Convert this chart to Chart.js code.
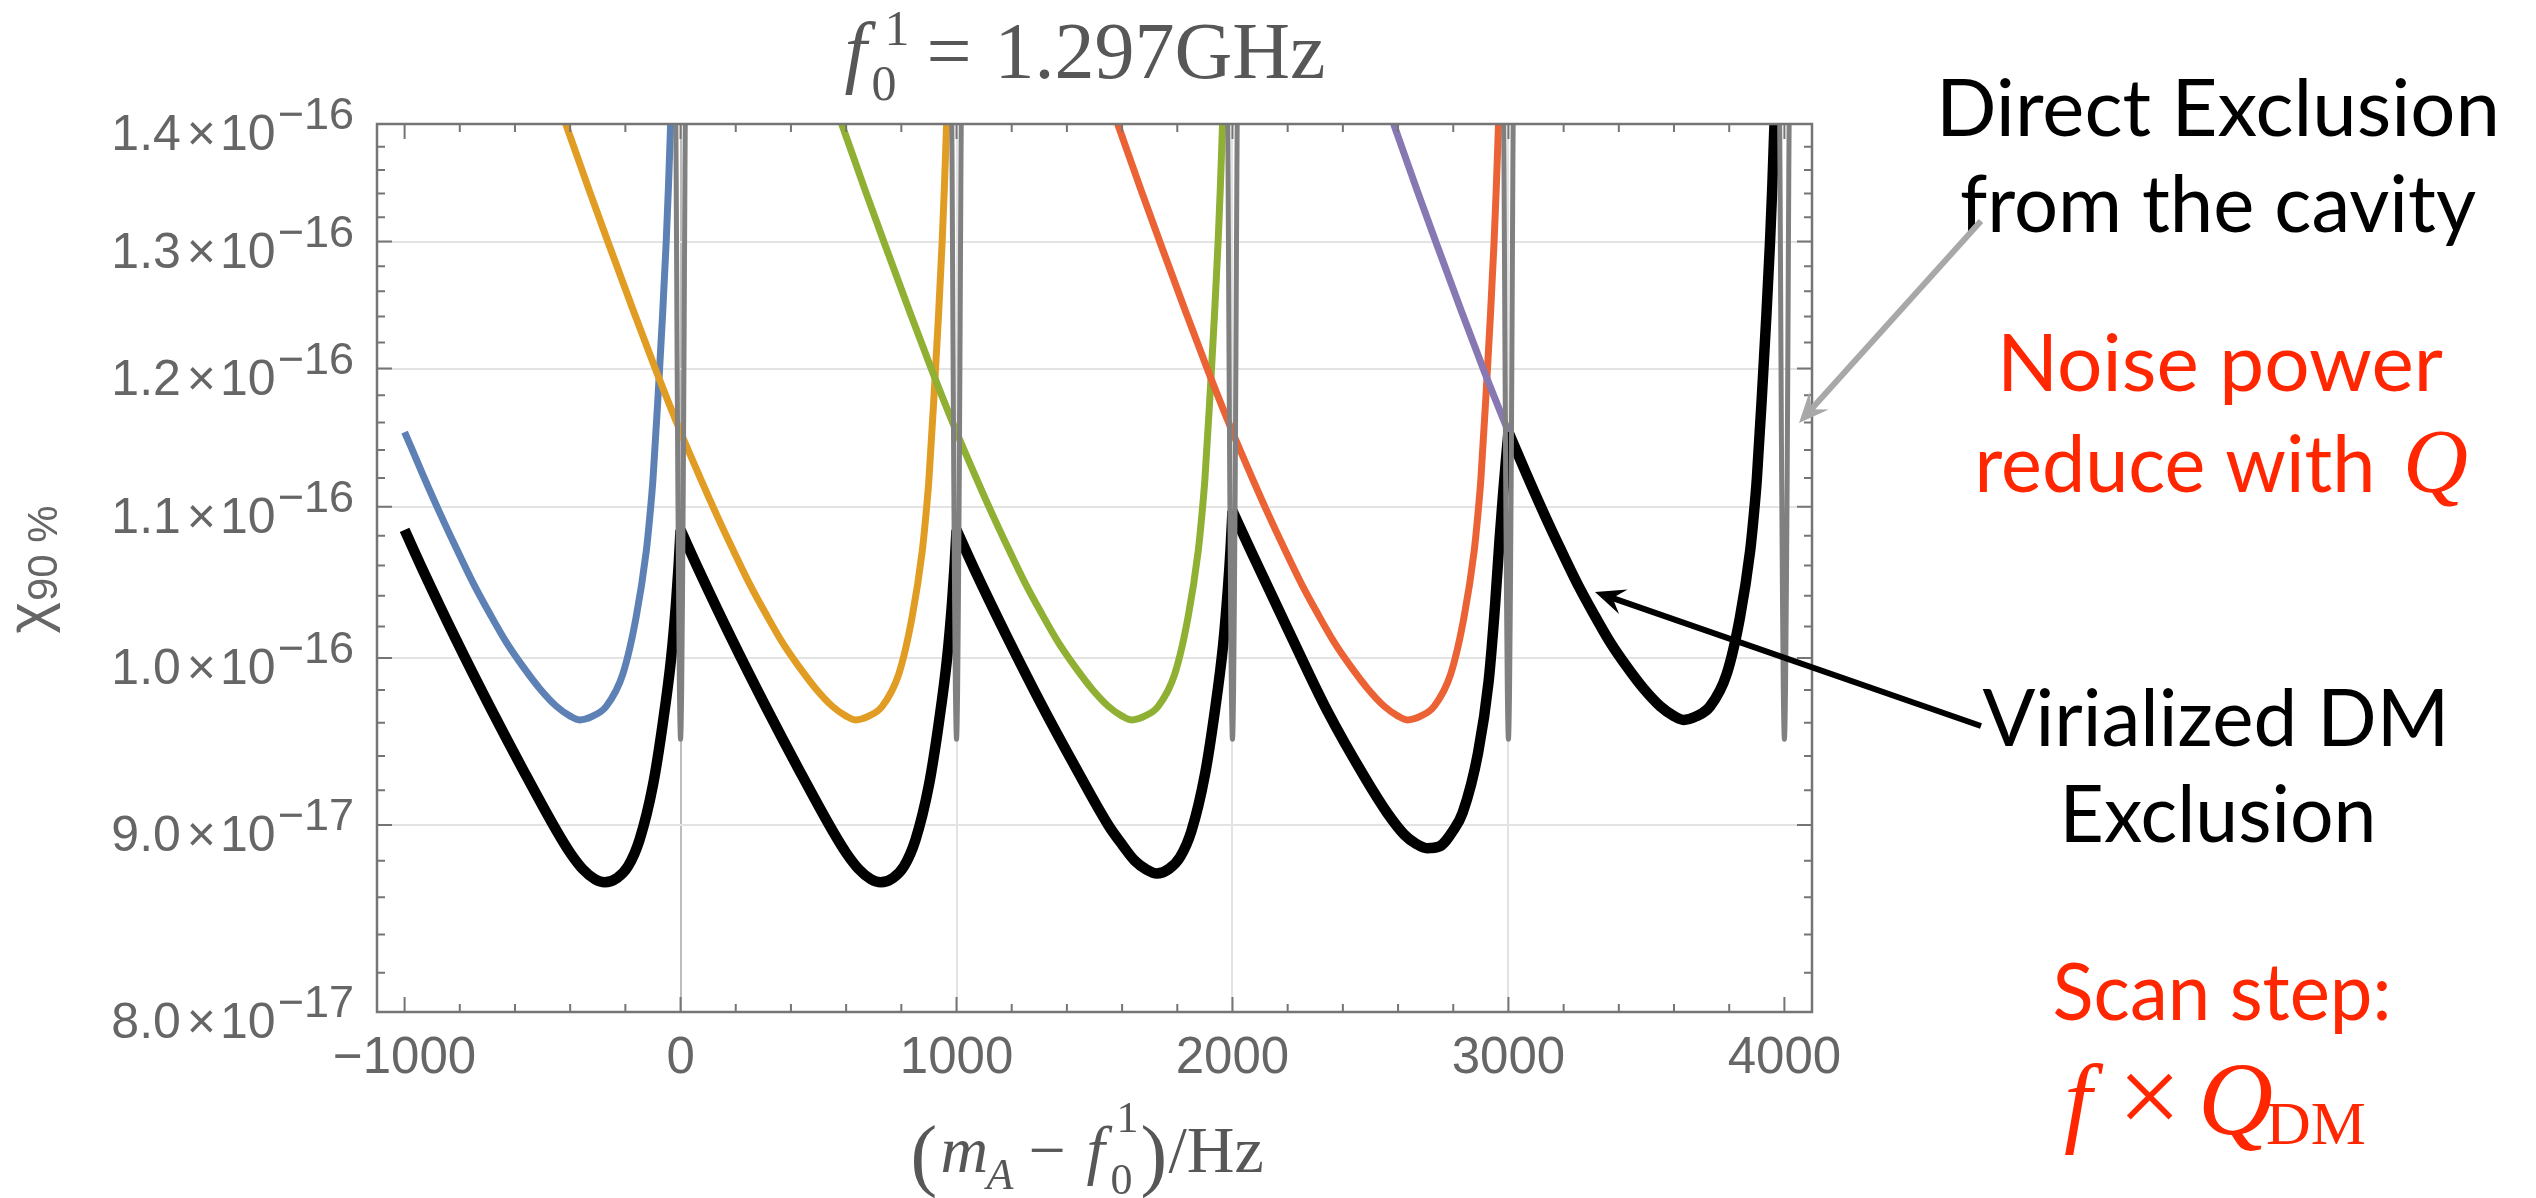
<!DOCTYPE html>
<html>
<head>
<meta charset="utf-8">
<script src="https://cdn.jsdelivr.net/npm/chart.js@4.4.1/dist/chart.umd.min.js"></script>
<style>
  html, body { margin: 0; padding: 0; background: #ffffff; }
  #wrap { width: 2536px; height: 1198px; }
</style>
</head>
<body>
<div id="wrap"><canvas id="chart" width="2536" height="1198"></canvas></div>
<script>
// values of chi_90% in units of 1e-16, x in Hz (m_A - f0)

// ===== single-cavity exclusions (coloured) =====
const blueX = [-1000, -934, -870, -813, -750, -692, -630, -571, -510, -450, -400, -366, -320, -269, -209, -161, -124, -112, -100, -80, -65, -52, -44, -36];
const blueY = [1.153, 1.1225, 1.0947, 1.0717, 1.0478, 1.0285, 1.0095, 0.9945, 0.9808, 0.970, 0.964, 0.9617, 0.9638, 0.970, 0.990, 1.026, 1.070, 1.092, 1.119, 1.185, 1.242, 1.300, 1.345, 1.400];

const orangeX = [-416, -330, -257, -170, -88, 0, 66, 130, 187, 250, 308, 370, 429, 490, 550, 600, 634, 680, 731, 791, 839, 876, 888, 900, 920, 935, 948, 956, 964];
const orangeY = [1.400, 1.342, 1.296, 1.244, 1.198, 1.153, 1.1225, 1.0947, 1.0717, 1.0478, 1.0285, 1.0095, 0.9945, 0.9808, 0.970, 0.964, 0.9617, 0.9638, 0.970, 0.990, 1.026, 1.070, 1.092, 1.119, 1.185, 1.242, 1.300, 1.345, 1.400];

const greenX = [584, 670, 743, 830, 912, 1000, 1066, 1130, 1187, 1250, 1308, 1370, 1429, 1490, 1550, 1600, 1634, 1680, 1731, 1791, 1839, 1876, 1888, 1900, 1920, 1935, 1948, 1956, 1964];
const greenY = [1.400, 1.342, 1.296, 1.244, 1.198, 1.153, 1.1225, 1.0947, 1.0717, 1.0478, 1.0285, 1.0095, 0.9945, 0.9808, 0.970, 0.964, 0.9617, 0.9638, 0.970, 0.990, 1.026, 1.070, 1.092, 1.119, 1.185, 1.242, 1.300, 1.345, 1.400];

const redX = [1584, 1670, 1743, 1830, 1912, 2000, 2066, 2130, 2187, 2250, 2308, 2370, 2429, 2490, 2550, 2600, 2634, 2680, 2731, 2791, 2839, 2876, 2888, 2900, 2920, 2935, 2948, 2956, 2964];
const redY = [1.400, 1.342, 1.296, 1.244, 1.198, 1.153, 1.1225, 1.0947, 1.0717, 1.0478, 1.0285, 1.0095, 0.9945, 0.9808, 0.970, 0.964, 0.9617, 0.9638, 0.970, 0.990, 1.026, 1.070, 1.092, 1.119, 1.185, 1.242, 1.300, 1.345, 1.400];

const purpleX = [2584, 2670, 2743, 2830, 2912, 3000];
const purpleY = [1.400, 1.342, 1.296, 1.244, 1.198, 1.153];

// ===== virialized DM exclusion (black), one piece per scan step =====
const blackAX = [-1000, -934, -813, -692, -571, -450, -400, -354, -310, -275, -230, -190, -149, -100, -64, -34, -16, -7, 0];
const blackAY = [1.084, 1.057, 1.0114, 0.970, 0.932, 0.897, 0.8844, 0.8753, 0.8698, 0.8681, 0.8705, 0.877, 0.8915, 0.923, 0.960, 1.000, 1.036, 1.060, 1.084];

const blackBX = [0, 66, 187, 308, 429, 550, 600, 646, 690, 725, 770, 810, 851, 900, 936, 966, 984, 993, 1000];
const blackBY = [1.084, 1.057, 1.0114, 0.970, 0.932, 0.897, 0.8844, 0.8753, 0.8698, 0.8681, 0.8705, 0.877, 0.8915, 0.923, 0.960, 1.000, 1.036, 1.060, 1.084];

const blackCX = [1000, 1066, 1187, 1308, 1429, 1550, 1600, 1646, 1690, 1725, 1770, 1810, 1851, 1900, 1936, 1966, 1984, 1993, 2000];
const blackCY = [1.084, 1.057, 1.012, 0.971, 0.934, 0.900, 0.889, 0.880, 0.875, 0.873, 0.8755, 0.882, 0.8965, 0.929, 0.967, 1.008, 1.046, 1.071, 1.097];

const blackDX = [2000, 2066, 2204, 2344, 2483, 2560, 2622, 2665, 2705, 2750, 2800, 2834, 2890, 2928, 2952, 2968, 2981, 2991, 3000];
const blackDY = [1.097, 1.070, 1.017, 0.967, 0.9265, 0.9071, 0.8947, 0.8895, 0.887, 0.888, 0.897, 0.907, 0.942, 0.985, 1.035, 1.078, 1.110, 1.133, 1.153];

const blackEX = [3000, 3066, 3130, 3187, 3250, 3308, 3370, 3429, 3490, 3550, 3600, 3634, 3680, 3731, 3791, 3839, 3876, 3888, 3900, 3920, 3935, 3948, 3956, 3964];
const blackEY = [1.153, 1.1225, 1.0947, 1.0717, 1.0478, 1.0285, 1.0095, 0.9945, 0.9808, 0.970, 0.964, 0.9617, 0.9638, 0.970, 0.990, 1.026, 1.070, 1.092, 1.119, 1.185, 1.242, 1.300, 1.345, 1.400];

// ===== direct exclusion from the cavity (narrow grey dips) =====
const dipCenters = [0, 1000, 2000, 3000, 4000];
const dipOffsets = [-19, -16, -13, -10, -7, -4, 0, 4, 7, 10, 13, 16, 19];
const dipY = [1.47, 1.36, 1.23, 1.12, 1.04, 0.98, 0.95, 0.98, 1.04, 1.12, 1.23, 1.36, 1.47];

// ===== axes =====
const xTicks = [-1000, 0, 1000, 2000, 3000, 4000];
const xTickLabels = ['\u22121000', '0', '1000', '2000', '3000', '4000'];
const xGridAt = [0, 1000, 2000, 3000];
const yTicks = [0.8, 0.9, 1.0, 1.1, 1.2, 1.3, 1.4];
const yTickMantissa = ['8.0', '9.0', '1.0', '1.1', '1.2', '1.3', '1.4'];
const yTickExponent = ['\u221217', '\u221217', '\u221216', '\u221216', '\u221216', '\u221216', '\u221216'];
const yGridAt = [0.9, 1.0, 1.1, 1.2, 1.3];

const GRAY_TEXT = '#666666';
const TITLE_GRAY = '#575757';
const RED = '#ff2600';

function pts(xs, ys) {
    return xs.map((x, i) => ({ x: x, y: ys[i] }));
}

function line(label, data, color, width, order) {
    return {
        label: label,
        data: data,
        borderColor: color,
        borderWidth: width,
        pointRadius: 0,
        fill: false,
        cubicInterpolationMode: 'monotone',
        borderJoinStyle: 'round',
        order: order
    };
}

const datasets = [];
dipCenters.forEach(c => {
    datasets.push(line('direct ' + c, pts(dipOffsets.map(o => c + o), dipY), '#808080', 5, 0));
});
[[blackAX, blackAY], [blackBX, blackBY], [blackCX, blackCY], [blackDX, blackDY], [blackEX, blackEY]].forEach((s, i) => {
    datasets.push(line('virialized ' + i, pts(s[0], s[1]), '#000000', 10.5, 1));
});
datasets.push(line('scan 5', pts(purpleX, purpleY), '#8778b3', 7, 2));
datasets.push(line('scan 4', pts(redX, redY), '#eb6235', 7, 3));
datasets.push(line('scan 3', pts(greenX, greenY), '#8fb032', 7, 4));
datasets.push(line('scan 2', pts(orangeX, orangeY), '#e19c24', 7, 5));
datasets.push(line('scan 1', pts(blueX, blueY), '#5e81b5', 7, 6));

// horizontally squeezed / stretched text so it fills a measured width
function fitText(ctx, text, cx, baseline, width, font, color) {
    ctx.save();
    ctx.font = font;
    ctx.fillStyle = color;
    ctx.textAlign = 'center';
    ctx.textBaseline = 'alphabetic';
    const w = ctx.measureText(text).width;
    ctx.translate(cx, baseline);
    ctx.scale(width / w, 1);
    ctx.fillText(text, 0, 0);
    ctx.restore();
}

function txt(ctx, text, x, y, font, color, align) {
    ctx.font = font;
    ctx.fillStyle = color;
    ctx.textAlign = align || 'left';
    ctx.textBaseline = 'alphabetic';
    ctx.fillText(text, x, y);
}

function arrow(ctx, x1, y1, x2, y2, color, width, headLen, headHalf) {
    const ang = Math.atan2(y2 - y1, x2 - x1);
    const ux = Math.cos(ang), uy = Math.sin(ang);
    ctx.save();
    ctx.strokeStyle = color;
    ctx.fillStyle = color;
    ctx.lineWidth = width;
    ctx.beginPath();
    ctx.moveTo(x1, y1);
    ctx.lineTo(x2 - ux * headLen * 0.5, y2 - uy * headLen * 0.5);
    ctx.stroke();
    const bx = x2 - ux * headLen, by = y2 - uy * headLen;
    const nx = x2 - ux * headLen * 0.62, ny = y2 - uy * headLen * 0.62;
    ctx.beginPath();
    ctx.moveTo(x2, y2);
    ctx.lineTo(bx - uy * headHalf, by + ux * headHalf);
    ctx.lineTo(nx, ny);
    ctx.lineTo(bx + uy * headHalf, by - ux * headHalf);
    ctx.closePath();
    ctx.fill();
    ctx.restore();
}

const framePlugin = {
    id: 'frame',
    afterDraw(chart) {
        const { ctx, chartArea: a, scales: { x, y } } = chart;
        ctx.save();

        // frame + inward ticks on all four sides
        ctx.strokeStyle = '#757575';
        ctx.lineWidth = 2.5;
        ctx.strokeRect(a.left, a.top, a.right - a.left, a.bottom - a.top);
        ctx.lineWidth = 2;
        ctx.beginPath();
        for (let v = -1000; v <= 4000; v += 200) {
            const px = x.getPixelForValue(v);
            const len = xTicks.includes(v) ? 15 : 8;
            ctx.moveTo(px, a.bottom); ctx.lineTo(px, a.bottom - len);
            ctx.moveTo(px, a.top); ctx.lineTo(px, a.top + len);
        }
        for (let k = 40; k <= 70; k++) {
            const v = k / 50;
            const py = y.getPixelForValue(v);
            const len = (k % 5 === 0) ? 15 : 8;
            ctx.moveTo(a.left, py); ctx.lineTo(a.left + len, py);
            ctx.moveTo(a.right, py); ctx.lineTo(a.right - len, py);
        }
        ctx.stroke();

        // x tick labels
        xTicks.forEach((v, i) => {
            txt(ctx, xTickLabels[i], x.getPixelForValue(v), a.bottom + 61, '51px "Liberation Sans"', GRAY_TEXT, 'center');
        });

        // y tick labels: m x 10^e
        yTicks.forEach((v, i) => {
            const py = y.getPixelForValue(v);
            const right = a.left - 23;
            ctx.font = '45px "Liberation Sans"';
            const we = ctx.measureText(yTickExponent[i]).width;
            ctx.font = '50px "Liberation Sans"';
            const w10 = ctx.measureText('10').width;
            const wx = ctx.measureText('\u00d7').width;
            const wm = ctx.measureText(yTickMantissa[i]).width;
            let cx = right - we;
            txt(ctx, yTickExponent[i], cx, py + 5, '45px "Liberation Sans"', GRAY_TEXT);
            cx -= w10 + 2;
            txt(ctx, '10', cx, py + 26, '50px "Liberation Sans"', GRAY_TEXT);
            cx -= wx + 4;
            txt(ctx, '\u00d7', cx, py + 26, '50px "Liberation Sans"', GRAY_TEXT);
            cx -= wm + 6;
            txt(ctx, yTickMantissa[i], cx, py + 26, '50px "Liberation Sans"', GRAY_TEXT);
        });

        // y axis label chi_90%
        ctx.save();
        ctx.translate(48, (a.top + a.bottom) / 2 + 2);
        ctx.rotate(-Math.PI / 2);
        ctx.font = '60px "Liberation Sans"';
        const wChi = ctx.measureText('\u03c7').width;
        ctx.font = '42px "Liberation Sans"';
        const wSub = ctx.measureText('90 %').width;
        const sx = -(wChi + wSub) / 2;
        txt(ctx, '\u03c7', sx, 0, '60px "Liberation Sans"', GRAY_TEXT);
        txt(ctx, '90 %', sx + wChi + 1, 9, '42px "Liberation Sans"', GRAY_TEXT);
        ctx.restore();

        // title  f_0^1 = 1.297GHz
        const cxp = (a.left + a.right) / 2;
        const t0 = cxp - 250;
        txt(ctx, 'f', t0, 78, 'italic 80px "Liberation Serif"', TITLE_GRAY);
        txt(ctx, '0', t0 + 27, 100, '50px "Liberation Serif"', TITLE_GRAY);
        txt(ctx, '1', t0 + 40, 45, '50px "Liberation Serif"', TITLE_GRAY);
        txt(ctx, '=', t0 + 82, 78, '80px "Liberation Serif"', TITLE_GRAY);
        txt(ctx, '1.297GHz', t0 + 150, 78, '80px "Liberation Serif"', TITLE_GRAY);

        // x axis label (m_A - f_0^1)/Hz
        const b = 1172;
        const l0 = cxp - 184;
        txt(ctx, '(', l0, b + 9, '80px "Liberation Serif"', TITLE_GRAY);
        txt(ctx, 'm', l0 + 30, b, 'italic 66px "Liberation Serif"', TITLE_GRAY);
        txt(ctx, 'A', l0 + 76, b + 17, 'italic 44px "Liberation Serif"', TITLE_GRAY);
        txt(ctx, '\u2212', l0 + 118, b, '66px "Liberation Serif"', TITLE_GRAY);
        txt(ctx, 'f', l0 + 176, b, 'italic 66px "Liberation Serif"', TITLE_GRAY);
        txt(ctx, '1', l0 + 206, b - 40, '44px "Liberation Serif"', TITLE_GRAY);
        txt(ctx, '0', l0 + 200, b + 22, '44px "Liberation Serif"', TITLE_GRAY);
        txt(ctx, ')', l0 + 230, b + 9, '80px "Liberation Serif"', TITLE_GRAY);
        txt(ctx, '/Hz', l0 + 258, b, '66px "Liberation Serif"', TITLE_GRAY);

        ctx.restore();

        // annotations
        const g = '80px Lato';
        fitText(ctx, 'Direct Exclusion', 2218, 136, 564, g, '#000000');
        fitText(ctx, 'from the cavity', 2218, 232, 516, g, '#000000');
        fitText(ctx, 'Noise power', 2220, 391, 446, g, RED);
        fitText(ctx, 'reduce with', 2175, 492, 401, g, RED);
        txt(ctx, 'Q', 2403, 492, 'italic 90px "Liberation Serif"', RED);
        fitText(ctx, 'Virialized DM', 2216, 746, 467, g, '#000000');
        fitText(ctx, 'Exclusion', 2218, 842, 317, g, '#000000');
        fitText(ctx, 'Scan step:', 2222, 1020, 339, g, RED);
        txt(ctx, 'f', 2064, 1134, 'italic 100px "Liberation Serif"', RED);
        txt(ctx, '\u00d7', 2118, 1134, '112px "Liberation Serif"', RED);
        txt(ctx, 'Q', 2198, 1134, 'italic 104px "Liberation Serif"', RED);
        txt(ctx, 'DM', 2266, 1144, '62px "Liberation Serif"', RED);

        arrow(ctx, 1981, 221, 1799, 423, '#a8a8a8', 6, 30, 13);
        arrow(ctx, 1981, 726, 1595, 592, '#000000', 6, 30, 13);
    }
};

new Chart(document.getElementById('chart'), {
    type: 'line',
    data: { datasets: datasets },
    options: {
        responsive: false,
        animation: false,
        devicePixelRatio: 1,
        layout: { padding: { left: 377, right: 724, top: 124, bottom: 186 } },
        plugins: {
            legend: { display: false },
            tooltip: { enabled: false }
        },
        scales: {
            x: {
                type: 'linear',
                min: -1100,
                max: 4100,
                afterBuildTicks: s => { s.ticks = xGridAt.map(v => ({ value: v })); },
                afterFit: s => { s.height = 0; },
                ticks: { display: false },
                border: { display: false },
                grid: {
                    drawTicks: false,
                    lineWidth: 2,
                    color: c => (c.tick && c.tick.value === 0) ? '#bdbdbd' : '#e3e3e3'
                }
            },
            y: {
                type: 'logarithmic',
                min: 0.8,
                max: 1.4,
                afterBuildTicks: s => { s.ticks = yGridAt.map(v => ({ value: v })); },
                afterFit: s => { s.width = 0; },
                ticks: { display: false },
                border: { display: false },
                grid: { drawTicks: false, lineWidth: 2, color: '#e3e3e3' }
            }
        }
    },
    plugins: [framePlugin]
});
</script>
</body>
</html>
